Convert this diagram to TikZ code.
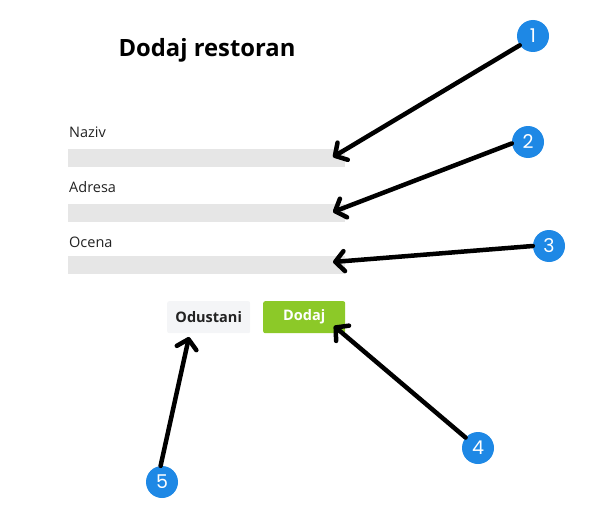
\documentclass[tikz,border=0pt]{standalone}
\usepackage{fontspec}
\setmainfont{Open Sans}
\newfontfamily\numfont{Poppins}
\usetikzlibrary{arrows.meta}
\definecolor{fieldgray}{HTML}{E6E6E6}
\definecolor{btngray}{HTML}{F4F5F7}
\definecolor{btngreen}{HTML}{8CC928}
\definecolor{badgeblue}{HTML}{1E88E5}
\definecolor{labeltext}{HTML}{222222}
\begin{document}
\begin{tikzpicture}[x=1pt,y=-1pt,
  field/.style={fill=fieldgray, draw=none, minimum width=277pt, minimum height=18pt, inner sep=0pt, anchor=north west},
  flabel/.style={anchor=base west, inner sep=0pt, text=labeltext, font=\fontsize{14.5}{16}\selectfont},
  btn/.style={rounded corners=2pt, minimum height=32pt, inner sep=0pt, anchor=north west, font=\fontsize{14.5}{16}\selectfont\bfseries},
  badge/.style={circle, fill=badgeblue, minimum size=32pt, inner sep=0pt, text=white, font=\fontsize{19}{20}\selectfont\numfont},
  callout/.style={line width=4.5pt, line cap=round, line join=round, -{Straight Barb[length=9pt,width=20pt,line cap=round,line join=round]}}
]
\useasboundingbox (0,0) rectangle (589,519);
\node[anchor=base, inner sep=0pt, font=\fontsize{23.8}{26}\selectfont\bfseries] (title) at (207,57) {Dodaj restoran};

\node[flabel] (lnaziv) at (69,137) {Naziv};
\node[field] (naziv) at (68,149) {};
\node[flabel] (ladresa) at (69,192) {Adresa};
\node[field] (adresa) at (68,204) {};
\node[flabel] (locena) at (69,247) {Ocena};
\node[field] (ocena) at (68,256) {};

\node[btn, fill=btngray, minimum width=83pt, text=labeltext] (odustani) at (167,301) {Odustani};
\node[btn, fill=btngreen, minimum width=82pt, text=white] (dodaj) at (263,301) {Dodaj};

\node[badge] (b1) at (533,36) {1};
\node[badge] (b2) at (528,142) {2};
\node[badge] (b3) at (549,246) {3};
\node[badge] (b4) at (478,448) {4};
\node[badge] (b5) at (162,482) {5};

\coordinate (t1) at (333,157);
\coordinate (t2) at (333,212);
\coordinate (t3) at (333,262);
\coordinate (t4) at (334,326);
\coordinate (t5) at (189,337);

\draw[callout] (b1.-145) -- (t1);
\draw[callout] (b2.-175) -- (t2);
\draw[callout] (b3.180) -- (t3);
\draw[callout] (b4.140) -- (t4);
\draw[callout] (b5.95) -- (t5);
\end{tikzpicture}
\end{document}
